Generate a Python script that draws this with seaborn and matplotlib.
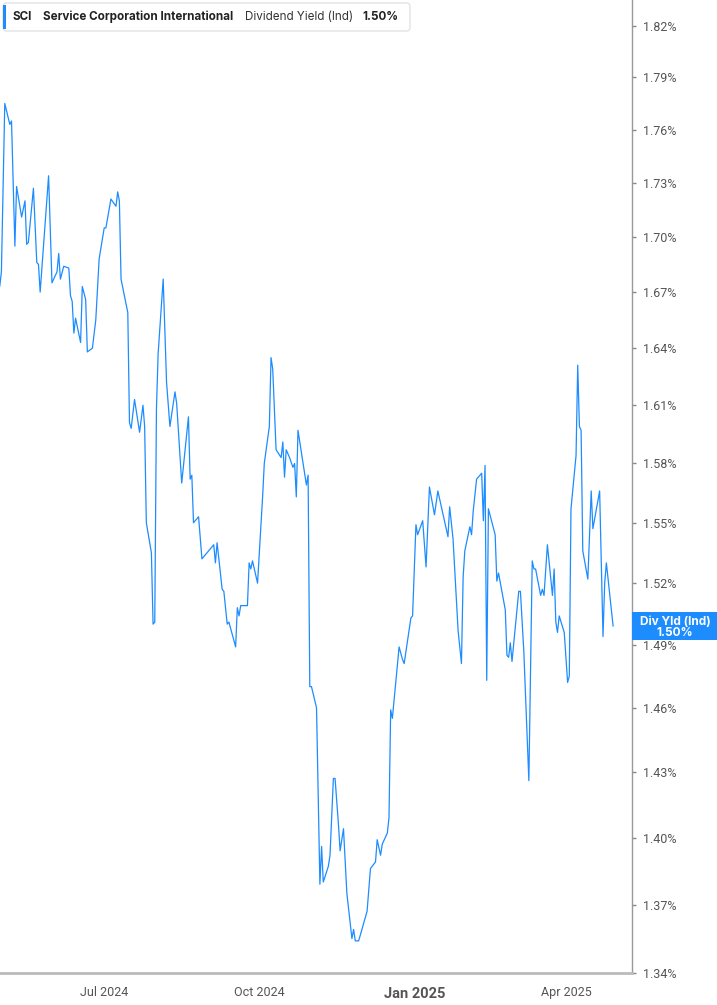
import pandas as pd
import matplotlib
matplotlib.use("Agg")
from matplotlib import pyplot as plt
from matplotlib import font_manager
from matplotlib.patches import FancyBboxPatch, Rectangle
from matplotlib.ticker import FixedLocator, FixedFormatter, NullLocator
import seaborn as sns

# series (vertices of the line)
dates = [
    "2024-04-30", "2024-05-01", "2024-05-03", "2024-05-06", "2024-05-07", "2024-05-09", "2024-05-10",
    "2024-05-13", "2024-05-15", "2024-05-16", "2024-05-17", "2024-05-20", "2024-05-22", "2024-05-23",
    "2024-05-24", "2024-05-29", "2024-05-31", "2024-06-03", "2024-06-04", "2024-06-05", "2024-06-07",
    "2024-06-10", "2024-06-11", "2024-06-12", "2024-06-13", "2024-06-14", "2024-06-17", "2024-06-18",
    "2024-06-20", "2024-06-21", "2024-06-24", "2024-06-26", "2024-06-28", "2024-07-01", "2024-07-02",
    "2024-07-05", "2024-07-08", "2024-07-09", "2024-07-10", "2024-07-11", "2024-07-15", "2024-07-16",
    "2024-07-17", "2024-07-19", "2024-07-22", "2024-07-24", "2024-07-25", "2024-07-26", "2024-07-29",
    "2024-07-30", "2024-07-31", "2024-08-01", "2024-08-02", "2024-08-05", "2024-08-07", "2024-08-09",
    "2024-08-12", "2024-08-13", "2024-08-16", "2024-08-20", "2024-08-21", "2024-08-22", "2024-08-23",
    "2024-08-26", "2024-08-28", "2024-09-04", "2024-09-05", "2024-09-06", "2024-09-09", "2024-09-10",
    "2024-09-12", "2024-09-13", "2024-09-17", "2024-09-18", "2024-09-19", "2024-09-20", "2024-09-24",
    "2024-09-25", "2024-09-26", "2024-09-27", "2024-09-30", "2024-10-03", "2024-10-04", "2024-10-07",
    "2024-10-08", "2024-10-09", "2024-10-11", "2024-10-14", "2024-10-15", "2024-10-16", "2024-10-17",
    "2024-10-19", "2024-10-21", "2024-10-22", "2024-10-23", "2024-10-24", "2024-10-29", "2024-10-30",
    "2024-10-31", "2024-11-01", "2024-11-04", "2024-11-06", "2024-11-07", "2024-11-08", "2024-11-11",
    "2024-11-12", "2024-11-14", "2024-11-15", "2024-11-17", "2024-11-18", "2024-11-20", "2024-11-22",
    "2024-11-25", "2024-11-26", "2024-11-27", "2024-11-29", "2024-12-04", "2024-12-06", "2024-12-09",
    "2024-12-10", "2024-12-12", "2024-12-13", "2024-12-16", "2024-12-17", "2024-12-18", "2024-12-19",
    "2024-12-21", "2024-12-23", "2024-12-25", "2024-12-26", "2024-12-30", "2024-12-31", "2025-01-02",
    "2025-01-03", "2025-01-06", "2025-01-08", "2025-01-10", "2025-01-13", "2025-01-15", "2025-01-21",
    "2025-01-22", "2025-01-24", "2025-01-27", "2025-01-29", "2025-01-30", "2025-01-31", "2025-02-03",
    "2025-02-04", "2025-02-05", "2025-02-07", "2025-02-10", "2025-02-11", "2025-02-12", "2025-02-13",
    "2025-02-14", "2025-02-18", "2025-02-19", "2025-02-20", "2025-02-24", "2025-02-25", "2025-02-26",
    "2025-02-27", "2025-02-28", "2025-03-04", "2025-03-05", "2025-03-07", "2025-03-10", "2025-03-12",
    "2025-03-13", "2025-03-14", "2025-03-17", "2025-03-18", "2025-03-19", "2025-03-21", "2025-03-24",
    "2025-03-25", "2025-03-26", "2025-03-27", "2025-03-28", "2025-03-31", "2025-04-02", "2025-04-03",
    "2025-04-04", "2025-04-07", "2025-04-08", "2025-04-09", "2025-04-10", "2025-04-11", "2025-04-14",
    "2025-04-16", "2025-04-17", "2025-04-21", "2025-04-23", "2025-04-24", "2025-04-25", "2025-04-29",
]
div_yield = [
    1.673, 1.681, 1.775, 1.763, 1.765, 1.695, 1.728,
    1.711, 1.720, 1.696, 1.697, 1.727, 1.686, 1.685,
    1.670, 1.734, 1.675, 1.681, 1.691, 1.677, 1.684,
    1.683, 1.668, 1.665, 1.648, 1.656, 1.643, 1.673,
    1.666, 1.638, 1.640, 1.655, 1.688, 1.705, 1.705,
    1.721, 1.717, 1.725, 1.720, 1.677, 1.659, 1.601,
    1.598, 1.613, 1.596, 1.610, 1.599, 1.550, 1.535,
    1.500, 1.501, 1.608, 1.637, 1.677, 1.622, 1.599,
    1.617, 1.611, 1.570, 1.604, 1.572, 1.574, 1.550,
    1.553, 1.532, 1.539, 1.530, 1.540, 1.517, 1.516,
    1.500, 1.501, 1.489, 1.508, 1.504, 1.509, 1.509,
    1.530, 1.527, 1.531, 1.520, 1.563, 1.580, 1.599,
    1.635, 1.629, 1.587, 1.583, 1.591, 1.573, 1.587,
    1.583, 1.578, 1.580, 1.563, 1.597, 1.569, 1.574,
    1.470, 1.470, 1.460, 1.379, 1.396, 1.380, 1.387,
    1.392, 1.427, 1.427, 1.406, 1.394, 1.404, 1.375,
    1.355, 1.359, 1.354, 1.354, 1.367, 1.386, 1.389,
    1.399, 1.392, 1.397, 1.402, 1.409, 1.459, 1.455,
    1.472, 1.489, 1.483, 1.481, 1.503, 1.504, 1.549,
    1.544, 1.551, 1.528, 1.568, 1.554, 1.566, 1.543,
    1.558, 1.542, 1.497, 1.481, 1.523, 1.536, 1.548,
    1.544, 1.556, 1.572, 1.575, 1.551, 1.579, 1.473,
    1.557, 1.544, 1.521, 1.525, 1.507, 1.485, 1.484,
    1.491, 1.482, 1.516, 1.516, 1.487, 1.426, 1.531,
    1.527, 1.527, 1.514, 1.517, 1.514, 1.539, 1.514,
    1.527, 1.501, 1.496, 1.504, 1.496, 1.472, 1.475,
    1.557, 1.584, 1.631, 1.599, 1.597, 1.536, 1.522,
    1.566, 1.547, 1.566, 1.494, 1.520, 1.530, 1.499,
]

y_ticks = [1.34, 1.37, 1.40, 1.43, 1.46, 1.49, 1.52, 1.55, 1.58, 1.61, 1.64, 1.67, 1.70, 1.73, 1.76, 1.79, 1.82]
x_ticks = ["2024-07-01", "2024-10-01", "2025-01-01", "2025-04-01"]
x_tick_labels = ["Jul 2024", "Oct 2024", "Jan 2025", "Apr 2025"]

ticker = "SCI"
company = "Service Corporation International"
metric = "Dividend Yield (Ind)"
last_label = "Div Yld (Ind)"
last_value = "1.50%"

BLUE = "#1c8cff"
W, H = 717, 1005

sns.set_theme(style="white")
installed = {f.name for f in font_manager.fontManager.ttflist}
tick_font = "Liberation Sans Narrow" if "Liberation Sans Narrow" in installed else "Roboto"
head_font = "Inter" if "Inter" in installed else "DejaVu Sans"
plt.rcParams["font.family"] = [head_font, "DejaVu Sans"]

df = pd.DataFrame({"date": pd.to_datetime(dates), "yield": div_yield})

fig = plt.figure(figsize=(W / 100, H / 100), dpi=100)
ax = fig.add_axes([0, 32 / H, 632 / W, 1 - 32 / H])

sns.lineplot(data=df, x="date", y="yield", ax=ax, color=BLUE, linewidth=0.9)

ax.set_yscale("log")
ax.set_ylim(1.34, 1.8354)
ax.set_xlim(pd.Timestamp("2024-04-30 04:00"), pd.Timestamp("2025-05-10 05:00"))

ax.yaxis.set_major_locator(FixedLocator(y_ticks))
ax.yaxis.set_major_formatter(FixedFormatter([f"{t:.2f}%" for t in y_ticks]))
ax.yaxis.set_minor_locator(NullLocator())
ax.yaxis.tick_right()
ax.tick_params(axis="y", which="major", direction="out", length=3, width=1, color="#888888",
               labelsize=9, labelcolor="#555555", pad=5)
for lbl in ax.get_yticklabels():
    lbl.set_fontfamily(tick_font)

ax.set_xticks(pd.to_datetime(x_ticks))
ax.set_xticklabels(x_tick_labels)
ax.tick_params(axis="x", direction="out", length=5, width=1, color="#aaaaaa",
               labelsize=9, labelcolor="#555555", pad=4)
for lbl in ax.get_xticklabels():
    lbl.set_fontfamily(tick_font)
    if lbl.get_text().startswith("Jan"):
        lbl.set_fontweight("bold")
        lbl.set_fontsize(10.5)
        lbl.set_y(-0.002)

ax.set_xlabel("")
ax.set_ylabel("")
for side in ["top", "left"]:
    ax.spines[side].set_visible(False)
ax.spines["bottom"].set_color("#bbbbbb")
ax.spines["bottom"].set_linewidth(2)
ax.spines["right"].set_color("#999999")
ax.spines["right"].set_linewidth(1)


def fx(px):
    return px / W


def fy(py):
    return 1 - py / H


# header box
fig.add_artist(FancyBboxPatch((fx(3), fy(31)), fx(407), 28 / H, boxstyle="round,pad=0,rounding_size=0.004",
                              transform=fig.transFigure, facecolor="white", edgecolor="#e3e3e3", linewidth=1))
fig.add_artist(Rectangle((fx(3), fy(29)), fx(3), 24 / H, transform=fig.transFigure,
                         facecolor=BLUE, edgecolor="none"))
head_size = 8.4
fig.text(fx(13), fy(17), ticker, fontsize=head_size, fontweight="bold", color="#222222", va="center")
fig.text(fx(43), fy(17), company, fontsize=head_size, fontweight="bold", color="#222222", va="center")
fig.text(fx(245), fy(17), metric, fontsize=head_size, color="#333333", va="center")
fig.text(fx(362), fy(17), last_value, fontsize=head_size, fontweight="bold", color="#222222", va="center")

# last value tag on the right axis
fig.add_artist(Rectangle((fx(632), fy(640)), fx(85), 28 / H, transform=fig.transFigure,
                         facecolor=BLUE, edgecolor="none"))
fig.text(fx(675), fy(622), last_label, fontsize=8.5, fontweight="bold", color="white", ha="center", va="center")
fig.text(fx(675), fy(633), last_value, fontsize=8.5, fontweight="bold", color="white", ha="center", va="center")

fig.savefig("out.png", dpi=100)
